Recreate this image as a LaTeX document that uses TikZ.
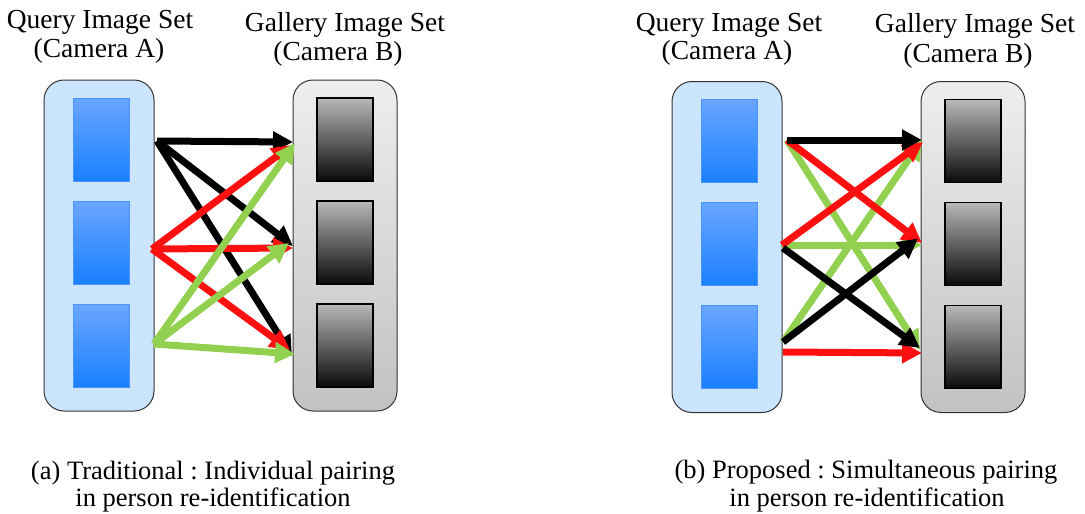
\documentclass[tikz,border=0pt]{standalone}
\usepackage{fontspec}
\setmainfont{Liberation Serif}
\usetikzlibrary{arrows.meta}
\frenchspacing

\definecolor{qfill}{HTML}{CCE5FF}
\definecolor{qtop}{HTML}{6AA6FF}
\definecolor{qbot}{HTML}{1A80FF}
\definecolor{qedge}{HTML}{4A94FF}
\definecolor{gtop}{HTML}{EEEEEE}
\definecolor{gbot}{HTML}{C2C2C2}
\definecolor{itop}{HTML}{B8B8B8}
\definecolor{ibot}{HTML}{0A0A0A}
\definecolor{pairred}{HTML}{FF1010}
\definecolor{pairgreen}{HTML}{92D050}

\tikzset{
  queryset/.style={draw=black!80, line width=1pt, fill=qfill, rounded corners=20pt,
    minimum width=110pt, minimum height=331pt, inner sep=0pt},
  galleryset/.style={draw=black!80, line width=1pt, top color=gtop, bottom color=gbot,
    rounded corners=20pt, minimum width=104pt, minimum height=331pt, inner sep=0pt},
  queryimg/.style={draw=qedge, line width=0.8pt, top color=qtop, bottom color=qbot,
    minimum width=56pt, minimum height=83pt, inner sep=0pt},
  galleryimg/.style={draw=black, line width=1.2pt, top color=itop, bottom color=ibot,
    minimum width=56pt, minimum height=83pt, inner sep=0pt},
  pair/.style={line width=7pt, -{Triangle[length=20pt,width=20pt]}},
  heading/.style={anchor=base, font=\fontsize{27.5pt}{28pt}\selectfont, inner sep=0pt},
  caption/.style={anchor=base, font=\fontsize{26.5pt}{28pt}\selectfont, inner sep=0pt},
}

% Query and gallery columns of one panel; #1 is the prefix of the node names
\newcommand\imagesets[1]{%
  \node[queryset] (#1q) at (99,245.5) {};
  \node[galleryset] (#1g) at (345,245.5) {};
  \foreach \k/\yy in {1/139.5,2/242.5,3/345.5}{
    \node[queryimg] (#1q\k) at (101,\yy) {};
    \node[galleryimg] (#1g\k) at (345,\yy) {};
  }%
}

\begin{document}
\begin{tikzpicture}[x=1pt,y=-1pt]
\useasboundingbox (0,0) rectangle (1085,514);

% ---------- (a) individual pairing ----------
\begin{scope}
  \imagesets{A}
  \node[heading] (Aqt1) at (100,28) {Query Image Set};
  \node[heading] (Aqt2) at (99,57) {(Camera A)};
  \node[heading] (Agt1) at (345,31) {Gallery Image Set};
  \node[heading] (Agt2) at (338,60) {(Camera B)};

  \coordinate (As1) at (157,141);
  \coordinate (As2) at (152,249);
  \coordinate (As3) at (154,344);
  \coordinate (At1) at (293,142);
  \coordinate (At2) at (293,246);
  \coordinate (At3) at (292,356);
  \coordinate (Ar1) at (292,145);
  \coordinate (Ar2) at (293,248);
  \coordinate (Ar3) at (290,350);
  \coordinate (Ag1) at (295,143);
  \coordinate (Ag2) at (289,243);
  \coordinate (Ag3) at (295,354);

  \draw[pair, black] (As1) -- (At1);
  \draw[pair, black] (As1) -- (At2);
  \draw[pair, black] (As1) -- (At3);
  \draw[pair, pairred] (As2) -- (Ar1);
  \draw[pair, pairred] (As2) -- (Ar2);
  \draw[pair, pairred] (As2) -- (Ar3);
  \draw[pair, pairgreen] (As3) -- (Ag1);
  \draw[pair, pairgreen] (As3) -- (Ag2);
  \draw[pair, pairgreen] (As3) -- (Ag3);

  \node[caption] (Acap1) at (213,479) {(a) Traditional : Individual pairing};
  \node[caption] (Acap2) at (213,506) {in person re-identification};
\end{scope}

% ---------- (b) simultaneous pairing ----------
\begin{scope}[shift={(628,1.5)}]
  \imagesets{B}
  \node[heading] (Bqt1) at (101,29.5) {Query Image Set};
  \node[heading] (Bqt2) at (99,57.5) {(Camera A)};
  \node[heading] (Bgt1) at (347,31) {Gallery Image Set};
  \node[heading] (Bgt2) at (340,61) {(Camera B)};

  \coordinate (Bs1) at (159,138.5);
  \coordinate (Bs2) at (154,243.5);
  \coordinate (Bs2b) at (155,246.5);
  \coordinate (Bs3) at (155,340.5);
  \coordinate (Bs3b) at (155,350.5);
  \coordinate (Bk1) at (294,138.5);
  \coordinate (Bk2) at (290,237);
  \coordinate (Bk3) at (292,346.5);
  \coordinate (Br1) at (295,140.5);
  \coordinate (Br2) at (294,241.5);
  \coordinate (Br3) at (294,351.5);
  \coordinate (Bg1) at (294,138.5);
  \coordinate (Bg2) at (294,243.5);
  \coordinate (Bg3) at (292,348.5);

  \draw[pair, pairgreen] (Bs1) -- (Bg3);
  \draw[pair, pairgreen] (Bs2) -- (Bg2);
  \draw[pair, pairgreen] (Bs3) -- (Bg1);
  \draw[pair, pairred] (Bs1) -- (Br2);
  \draw[pair, pairred] (Bs2) -- (Br1);
  \draw[pair, pairred] (Bs3b) -- (Br3);
  \draw[pair, black] (Bs1) -- (Bk1);
  \draw[pair, black] (Bs2b) -- (Bk3);
  \draw[pair, black] (Bs3) -- (Bk2);

  \node[caption] (Bcap1) at (238,477) {(b) Proposed : Simultaneous pairing};
  \node[caption] (Bcap2) at (239,504.5) {in person re-identification};
\end{scope}
\end{tikzpicture}
\end{document}
